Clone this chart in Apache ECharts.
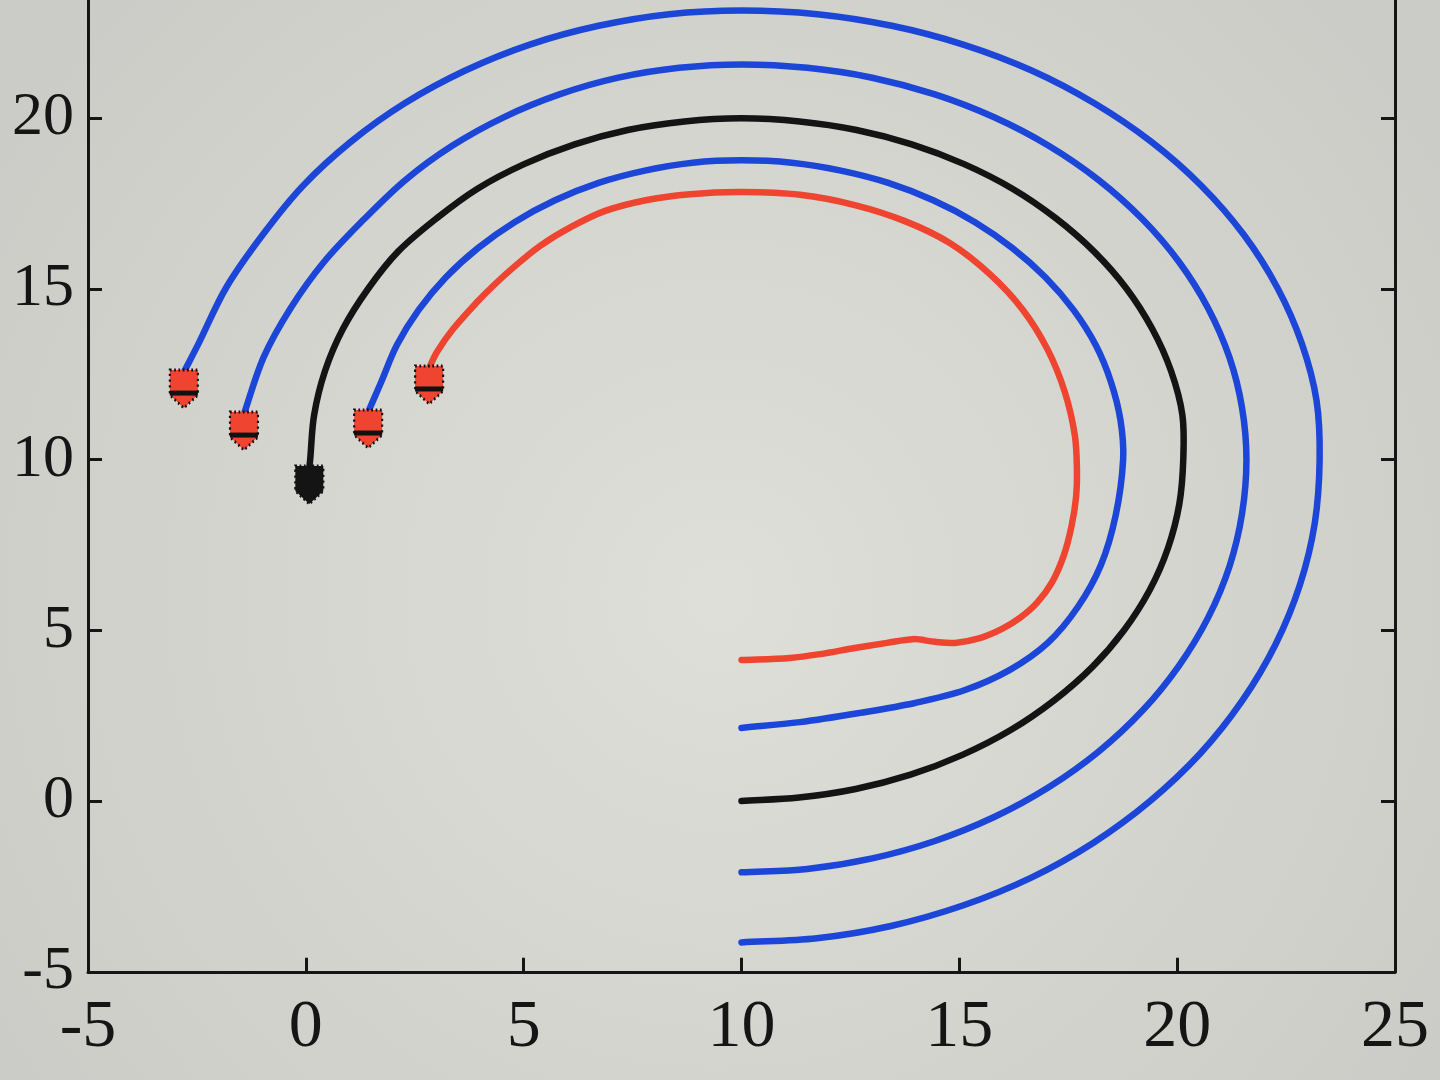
<!DOCTYPE html>
<html><head><meta charset="utf-8">
<script src="https://cdn.jsdelivr.net/npm/echarts@6/dist/echarts.min.js"></script>
<style>html,body{margin:0;padding:0;background:#d6d6d0}#c{width:1440px;height:1080px}</style>
</head><body><div id="c"></div><script>
// axis ranges / ticks
const xRange = [-5, 25];
const yRange = [-5, 25];
const tickStep = 5;

// trajectories [x, y] (start -> end)
const leader = [[10.0,0.0],[11.32,0.10],[12.62,0.35],[13.88,0.77],[15.07,1.35],[16.17,2.07],[17.17,2.94],[18.05,3.92],[18.78,5.0],[19.37,6.18],[19.79,7.41],[20.05,8.70],[20.14,10.0],[20.12,11.30],[19.86,12.59],[19.43,13.82],[18.84,15.0],[18.10,16.08],[17.22,17.06],[16.22,17.93],[15.11,18.65],[13.91,19.23],[12.64,19.65],[11.33,19.90],[10.0,19.99],[8.69,19.90],[7.39,19.65],[6.17,19.23],[5.01,18.65],[3.94,17.93],[3.0,17.06],[2.11,16.08],[1.43,15.0],[0.85,13.82],[0.44,12.59],[0.19,11.30],[0.10,10.0],[0.08,9.75]];
const followerOuter2 = [[10.0,-4.14],[11.73,-4.02],[13.43,-3.66],[15.08,-3.06],[16.64,-2.25],[18.08,-1.22],[19.38,0.0],[20.53,1.39],[21.49,2.93],[22.26,4.59],[22.82,6.34],[23.16,8.15],[23.27,10.0],[23.20,11.72],[22.86,13.40],[22.30,15.03],[21.53,16.58],[20.56,18.01],[19.41,19.30],[18.10,20.43],[16.66,21.39],[15.09,22.15],[13.45,22.70],[11.74,23.04],[10.0,23.15],[8.34,23.04],[6.72,22.70],[5.14,22.15],[3.66,21.39],[2.27,20.43],[1.03,19.30],[-0.07,18.01],[-0.99,16.58],[-1.83,15.03],[-2.46,13.40],[-2.80,12.56]];
const followerOuter1 = [[10.0,-2.09],[11.51,-1.99],[13.0,-1.68],[14.44,-1.17],[15.80,-0.47],[17.06,0.41],[18.20,1.45],[19.20,2.64],[20.04,3.96],[20.71,5.37],[21.20,6.87],[21.49,8.42],[21.59,10.0],[21.49,11.51],[21.20,12.99],[20.71,14.43],[20.04,15.79],[19.20,17.04],[18.20,18.18],[17.06,19.18],[15.80,20.02],[14.44,20.69],[13.0,21.18],[11.51,21.47],[10.0,21.57],[8.57,21.47],[7.17,21.18],[5.82,20.69],[4.54,20.02],[3.35,19.18],[2.28,18.18],[1.34,17.04],[0.42,15.79],[-0.35,14.43],[-0.97,12.99],[-1.42,11.33]];
const followerInner = [[10.0,2.14],[11.34,2.31],[12.72,2.58],[13.98,2.87],[15.13,3.25],[16.16,3.84],[17.03,4.63],[17.72,5.68],[18.25,6.91],[18.59,8.37],[18.76,10.0],[18.70,11.14],[18.48,12.27],[18.13,13.35],[17.62,14.38],[16.98,15.33],[16.22,16.19],[15.36,16.95],[14.40,17.59],[13.37,18.10],[12.28,18.46],[11.15,18.69],[10.0,18.76],[8.88,18.69],[7.78,18.46],[6.72,18.10],[5.72,17.59],[4.79,16.95],[3.95,16.19],[3.21,15.33],[2.59,14.38],[2.09,13.35],[1.73,12.27],[1.43,11.39]];
const followerRed = [[10.0,4.13],[11.11,4.19],[11.80,4.30],[12.60,4.48],[13.34,4.63],[13.94,4.74],[14.44,4.66],[14.90,4.63],[15.47,4.77],[15.98,5.04],[16.39,5.36],[16.78,5.80],[17.13,6.41],[17.40,7.20],[17.58,8.08],[17.68,8.90],[17.70,9.69],[17.65,10.72],[17.42,11.98],[17.03,13.21],[16.46,14.38],[15.70,15.43],[14.78,16.34],[13.75,16.98],[12.60,17.45],[11.34,17.75],[10.0,17.83],[8.82,17.77],[7.83,17.60],[6.87,17.28],[6.09,16.81],[5.37,16.25],[4.78,15.64],[4.32,15.11],[3.93,14.61],[3.38,13.82],[3.01,13.15],[2.83,12.68]];

const BLUE = '#1c46d8', RED = '#ee4430', BLACK = '#141414', AX = '#151515';
const markerPath = 'path://M0,0 L28,0 L28,25 L14,38 L0,25 Z';

const chart = echarts.init(document.getElementById('c'), null, {renderer: 'canvas'});

function axisCommon(extra) {
  return Object.assign({
    type: 'value', min: yRange[0], max: yRange[1], interval: tickStep,
    axisLine: {show: true, onZero: false, lineStyle: {color: AX, width: 3}},
    axisTick: {show: true, inside: true, length: 14, lineStyle: {color: AX, width: 3}},
    splitLine: {show: false}
  }, extra);
}

// smooth curve through the data points, positioned by the axes via api.coord
function trajSeries(traj, color, name) {
  return {
    type: 'custom', name, data: traj, encode: {x: 0, y: 1}, clip: false, silent: true, z: 2,
    renderItem: function (params, api) {
      if (params.dataIndex !== 0) return null;
      const p = traj.map(v => api.coord(v));
      const n = p.length;
      const dist = (a, b) => Math.hypot(b[0] - a[0], b[1] - a[1]) || 1e-6;
      const unit = (a, b) => { const d = dist(a, b); return [(b[0] - a[0]) / d, (b[1] - a[1]) / d]; };
      const m = p.map((pt, i) => {
        if (i === 0) return unit(p[0], p[1]);
        if (i === n - 1) return unit(p[n - 2], p[n - 1]);
        return unit(p[i - 1], p[i + 1]);
      });
      let d = 'M' + p[0][0].toFixed(2) + ',' + p[0][1].toFixed(2);
      for (let i = 0; i < n - 1; i++) {
        const L = dist(p[i], p[i + 1]) / 3;
        const c1x = p[i][0] + m[i][0] * L, c1y = p[i][1] + m[i][1] * L;
        const c2x = p[i + 1][0] - m[i + 1][0] * L, c2y = p[i + 1][1] - m[i + 1][1] * L;
        d += 'C' + c1x.toFixed(2) + ',' + c1y.toFixed(2) + ' ' + c2x.toFixed(2) + ',' + c2y.toFixed(2) + ' ' + p[i + 1][0].toFixed(2) + ',' + p[i + 1][1].toFixed(2);
      }
      return {
        type: 'path', shape: {pathData: d},
        style: {fill: 'none', stroke: color, lineWidth: 6.5, lineCap: 'round', lineJoin: 'round'}
      };
    }
  };
}

const followers = [followerOuter2, followerOuter1, followerInner, followerRed];
const endMarkers = followers.map(t => ({value: t[t.length - 1], itemStyle: {color: RED}}))
  .concat([{value: leader[leader.length - 1], itemStyle: {color: BLACK}}]);
const barMarkers = followers.map(t => t[t.length - 1]);

chart.setOption({
  animation: false,
  backgroundColor: new echarts.graphic.RadialGradient(0.5, 0.55, 0.8, [
    {offset: 0, color: '#dfdfd9'}, {offset: 1, color: '#cbccc7'}
  ]),
  grid: {left: 88, right: 45, top: -52.75, bottom: 108.25, containLabel: false, outerBoundsMode: 'none'},
  xAxis: {
    type: 'value', min: xRange[0], max: xRange[1], interval: tickStep,
    axisLine: {show: true, onZero: false, lineStyle: {color: AX, width: 3}},
    axisTick: {show: true, inside: true, length: 14, lineStyle: {color: AX, width: 3}},
    axisLabel: {fontFamily: 'Liberation Serif', fontSize: 68, color: AX, margin: 22, showMinLabel: true, showMaxLabel: true},
    splitLine: {show: false}
  },
  yAxis: [
    axisCommon({position: 'left', axisLabel: {fontFamily: 'Liberation Serif', fontSize: 62, color: AX, margin: 14, showMinLabel: true}}),
    axisCommon({position: 'right', axisLabel: {show: false}})
  ],
  series: [
    trajSeries(followerOuter2, BLUE, 'follower 4'),
    trajSeries(followerOuter1, BLUE, 'follower 3'),
    trajSeries(leader, BLACK, 'leader'),
    trajSeries(followerInner, BLUE, 'follower 2'),
    trajSeries(followerRed, RED, 'follower 1'),
    {
      type: 'scatter', data: endMarkers, symbol: markerPath, symbolSize: [28, 38],
      symbolOffset: [0, 17], clip: false, z: 5, silent: true,
      itemStyle: {opacity: 1, borderColor: '#111', borderWidth: 2.5, borderType: [2, 3]}
    },
    {
      type: 'scatter', data: barMarkers, symbol: 'rect', symbolSize: [28, 5],
      symbolOffset: [0, 21], clip: false, z: 6, silent: true,
      itemStyle: {opacity: 1, color: '#111'}
    }
  ]
});
</script></body></html>
